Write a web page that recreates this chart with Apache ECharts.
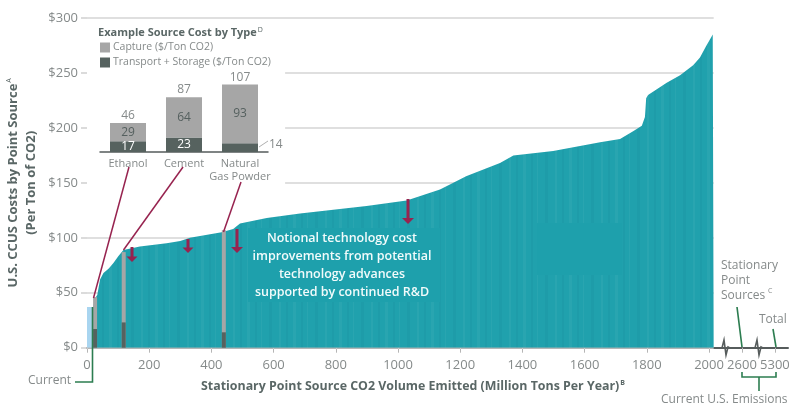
<!DOCTYPE html>
<html>
<head>
<meta charset="utf-8">
<title>U.S. CCUS Costs by Point Source</title>
<style>
  html, body { margin: 0; padding: 0; background: #fff; }
  #chart { width: 805px; height: 416px; }
</style>
<script src="https://cdn.jsdelivr.net/npm/echarts@6/dist/echarts.min.js"></script>
</head>
<body>
<div id="chart"></div>
<script>
// 成本曲线
var costVolumes = [20, 26, 33, 42, 53, 70, 85, 100, 117, 170, 256, 300, 331, 433, 470, 492, 578, 685, 899, 1028, 1135, 1178, 1219, 1328, 1371, 1499, 1650, 1714, 1756, 1784, 1794, 1798, 1804, 1864, 1907, 1949, 1971, 1990, 2008, 2012, 2015];
var costValues = [37, 45, 48, 62, 68, 72, 77, 83, 89, 92, 95, 97, 100, 105, 108, 113, 118, 122, 129, 134, 144, 150, 156, 168, 175, 179, 187, 190, 197, 202, 210, 227, 230, 241, 248, 257, 264, 274, 283, 285, 285];
var currentVolumes = [0, 20];
var currentValues = [37, 37];

// 例子 (inset)
var sourceTypes = ['Ethanol', 'Cement', 'Natural\nGas Powder'];
var sourceVolumes = [26, 118, 440];
var transportCost = [17, 23, 14];
var captureCost = [29, 64, 93];
var totalCost = [46, 87, 107];

// 坐标轴
var yTicks = [0, 50, 100, 150, 200, 250, 300];
var gridStarts = [0, 0, 0, 637, 637, 637, 0];
var xTickPositions = [0, 200, 400, 600, 800, 1000, 1200, 1400, 1600, 1800, 2000, 2106, 2212];
var xTickLabels = ['0', '200', '400', '600', '800', '1000', '1200', '1400', '1600', '1800', '2000', '2600', '5300'];

var FONT = '"Open Sans", "Noto Sans", sans-serif';
var GREY = '#858a8a';
var TITLE = '#5a6766';
var TEAL = '#20a1ad';
var CRIMSON = '#97234f';
var GREEN = '#2c7d50';
var AXIS = '#565c5c';
var CAPTURE = '#a6a6a6';
var TRANSPORT = '#56625f';

// 面积图上的细竖纹
function ribPattern() {
  var c = document.createElement('canvas');
  c.width = 46;
  c.height = 4;
  var ctx = c.getContext('2d');
  ctx.fillStyle = TEAL;
  ctx.fillRect(0, 0, 46, 4);
  ctx.fillStyle = 'rgba(255,255,255,0.045)';
  ctx.fillRect(3, 0, 2, 4);
  ctx.fillRect(17, 0, 3, 4);
  ctx.fillRect(31, 0, 1, 4);
  ctx.fillStyle = 'rgba(0,60,70,0.04)';
  ctx.fillRect(10, 0, 2, 4);
  ctx.fillRect(25, 0, 2, 4);
  ctx.fillRect(39, 0, 3, 4);
  return c;
}

// 向下箭头
function arrow(x, top, bottom, size) {
  return [{
    type: 'line', z: 20,
    shape: { x1: x, y1: top, x2: x, y2: bottom - size + 1 },
    style: { stroke: CRIMSON, lineWidth: 3 }
  }, {
    type: 'polygon', z: 20,
    shape: { points: [[x - size, bottom - size], [x + size, bottom - size], [x, bottom]] },
    style: { fill: CRIMSON }
  }];
}
function leader(x1, y1, x2, y2, color, width) {
  return {
    type: 'line', z: 20,
    shape: { x1: x1, y1: y1, x2: x2, y2: y2 },
    style: { stroke: color, lineWidth: width }
  };
}
function poly(points, color, width) {
  return {
    type: 'polyline', z: 20,
    shape: { points: points },
    style: { stroke: color, lineWidth: width, fill: 'none' }
  };
}
function patch(x, y, w, h) {
  return {
    type: 'rect', z: 10,
    shape: { x: x, y: y, width: w, height: h },
    style: { fill: '#1ea0ac' }
  };
}
function label(x, y, text, opts) {
  return {
    type: 'text', z: 21, x: x, y: y,
    style: Object.assign({
      text: text, fill: GREY, font: '12px ' + FONT,
      textAlign: 'left', textVerticalAlign: 'middle'
    }, opts || {})
  };
}

var noteStyle = { fill: '#f2fbfb', font: '600 12.5px ' + FONT, textAlign: 'center' };
var graphics = [].concat(
  [patch(248, 228, 192, 74), patch(537, 223, 85, 52)],
  arrow(132, 247, 262, 5.5),
  arrow(188, 239, 253, 5.5),
  arrow(237, 229, 253, 6),
  arrow(408, 199, 224, 6),
  [
    leader(129, 167, 93.5, 298, CRIMSON, 1.5),
    leader(183, 167, 123.5, 250, CRIMSON, 1.5),
    leader(241, 182, 223.5, 232, CRIMSON, 1.5),
    leader(259, 147, 268, 141, '#9a9a9a', 0.8),
    poly([[92.5, 307], [92.5, 382], [75, 382]], GREEN, 1.6),
    leader(737, 307, 742, 347, GREEN, 1.6),
    leader(773, 329, 776, 347, GREEN, 1.6),
    poly([[742, 372], [742, 377], [776, 377], [776, 372]], GREEN, 1.6),
    leader(759, 377, 759, 391, GREEN, 1.6),
    poly([[721, 348], [722, 348], [724, 340], [726, 355], [728, 347], [730, 348]], AXIS, 1.6),
    poly([[754, 348], [755, 348], [757, 340], [759, 355], [761, 347], [763, 348]], AXIS, 1.6),
    label(342, 238, 'Notional technology cost', noteStyle),
    label(342, 256, 'improvements from potential', noteStyle),
    label(342, 274, 'technology advances', noteStyle),
    label(342, 292, 'supported by continued R&D', noteStyle),
    label(28, 381, 'Current'),
    label(721, 266, 'Stationary'),
    label(721, 281, 'Point'),
    label(721, 296, 'Sources'),
    label(768, 291, 'C', { font: '7px ' + FONT }),
    label(759, 320, 'Total'),
    label(661, 400, 'Current U.S. Emissions')
  ]
);

var gridData = yTicks.map(function (v, i) {
  return [{ coord: [gridStarts[i], v] }, { coord: [2015, v] }];
});

var chart = echarts.init(document.getElementById('chart'), null, { renderer: 'canvas' });
chart.setOption({
  animation: false,
  backgroundColor: '#fff',
  textStyle: { fontFamily: FONT },
  title: {
    text: 'Example Source Cost by Type{s|D}',
    left: 93, top: 21,
    textStyle: {
      fontFamily: FONT, fontSize: 11, fontWeight: 700, color: TITLE,
      rich: { s: { fontSize: 7, fontWeight: 400, color: TITLE, padding: [0, 0, 6, 1] } }
    }
  },
  legend: {
    orient: 'vertical', left: 95, top: 37, itemWidth: 10, itemHeight: 10, itemGap: 4,
    data: [
      { name: 'Capture ($/Ton CO2)', icon: 'rect' },
      { name: 'Transport + Storage ($/Ton CO2)', icon: 'rect' }
    ],
    textStyle: { fontFamily: FONT, fontSize: 10.5, color: GREY, padding: [0, 0, 0, -2] }
  },
  grid: [
    { left: 87, right: 17, top: 18, height: 329.7, outerBoundsMode: 'none' },
    { left: 100, width: 168, top: 82.7, height: 69.3, outerBoundsMode: 'none' }
  ],
  xAxis: [{
    type: 'value', gridIndex: 0, min: 0, max: 2254,
    name: 'Stationary Point Source CO2 Volume Emitted (Million Tons Per Year){s|B}',
    nameLocation: 'middle', nameGap: 32,
    nameTextStyle: {
      fontFamily: FONT, fontSize: 12.4, fontWeight: 700, color: TITLE, padding: [0, 49, 0, 0],
      rich: { s: { fontSize: 7, color: TITLE, padding: [0, 0, 7, 1] } }
    },
    splitLine: { show: false },
    axisLine: { lineStyle: { color: AXIS, width: 2 } },
    axisTick: { length: 5, lineStyle: { color: '#b5b5b5' }, customValues: xTickPositions },
    axisLabel: {
      color: GREY, fontSize: 13, margin: 11, fontFamily: FONT,
      customValues: xTickPositions,
      formatter: function (v) {
        return xTickLabels[xTickPositions.indexOf(v)];
      }
    }
  }, {
    type: 'category', gridIndex: 1, data: sourceTypes,
    axisLine: { lineStyle: { color: AXIS, width: 1.5 } },
    axisTick: { show: false },
    axisLabel: { color: GREY, fontSize: 11, margin: 5, lineHeight: 13, fontFamily: FONT, interval: 0 }
  }],
  yAxis: [{
    type: 'value', gridIndex: 0, min: 0, max: 300, interval: 50,
    name: '{t|U.S. CCUS Costs by Point Source}{s|A}\n{t|(Per Ton of CO2)}',
    nameLocation: 'middle', nameGap: 47, nameRotate: 90,
    nameTextStyle: {
      rich: {
        t: { fontFamily: FONT, fontSize: 13, fontWeight: 700, color: TITLE, lineHeight: 18 },
        s: { fontFamily: FONT, fontSize: 7, color: TITLE, padding: [0, 0, 7, 1] }
      }
    },
    splitLine: { show: false },
    axisLine: { show: false },
    axisTick: { show: true, length: 6, lineStyle: { color: '#cfcfcf', width: 1.5 } },
    axisLabel: {
      color: GREY, fontSize: 13, margin: 9, fontFamily: FONT,
      formatter: function (v) { return '$' + v; }
    }
  }, {
    type: 'value', gridIndex: 1, min: 0, max: 110, show: false
  }],
  series: [
    {
      name: 'Grid', type: 'line', xAxisIndex: 0, yAxisIndex: 0, z: 1, data: [], silent: true,
      markLine: {
        silent: true, symbol: 'none', z: 1, label: { show: false },
        lineStyle: { color: '#d4d4d4', width: 1.5, type: 'solid' },
        data: gridData
      }
    },
    {
      name: 'Cost curve', type: 'line', xAxisIndex: 0, yAxisIndex: 0, z: 3,
      symbol: 'none', lineStyle: { width: 0 },
      areaStyle: { color: { image: ribPattern(), repeat: 'repeat' }, opacity: 1 },
      data: costVolumes.map(function (x, i) { return [x, costValues[i]]; })
    },
    {
      name: 'Current', type: 'line', xAxisIndex: 0, yAxisIndex: 0, z: 3,
      symbol: 'none', lineStyle: { width: 0 },
      areaStyle: { color: '#a9d5f0', opacity: 1 },
      data: currentVolumes.map(function (x, i) { return [x, currentValues[i]]; })
    },
    {
      // 灰条在下, 深色条压在上面
      name: 'Source total', type: 'bar', xAxisIndex: 0, yAxisIndex: 0, z: 14,
      barWidth: 4, barGap: '-100%', itemStyle: { color: CAPTURE },
      data: sourceVolumes.map(function (x, i) { return [x, totalCost[i]]; })
    },
    {
      name: 'Source transport', type: 'bar', xAxisIndex: 0, yAxisIndex: 0, z: 15,
      barWidth: 4, barGap: '-100%', itemStyle: { color: TRANSPORT },
      data: sourceVolumes.map(function (x, i) { return [x, transportCost[i]]; })
    },
    {
      name: 'Transport + Storage ($/Ton CO2)', type: 'bar', xAxisIndex: 1, yAxisIndex: 1, stack: 'type',
      barWidth: 36, itemStyle: { color: TRANSPORT },
      label: { show: true, position: 'inside', color: '#fff', fontSize: 12, fontFamily: FONT },
      data: transportCost.map(function (v, i) {
        if (i < 2) return v;
        return { value: v, label: { position: 'right', distance: 11, color: GREY, offset: [0, -3] } };
      })
    },
    {
      name: 'Capture ($/Ton CO2)', type: 'bar', xAxisIndex: 1, yAxisIndex: 1, stack: 'type',
      barWidth: 36, itemStyle: { color: CAPTURE },
      label: { show: true, position: 'inside', color: '#55605f', fontSize: 12, fontFamily: FONT },
      data: captureCost
    },
    {
      name: 'Total', type: 'line', xAxisIndex: 1, yAxisIndex: 1,
      symbol: 'circle', symbolSize: 1, itemStyle: { color: 'rgba(0,0,0,0)' }, lineStyle: { opacity: 0 },
      label: { show: true, position: 'top', distance: 1, color: GREY, fontSize: 12, fontFamily: FONT },
      data: totalCost
    }
  ],
  graphic: { elements: graphics }
});
</script>
</body>
</html>
